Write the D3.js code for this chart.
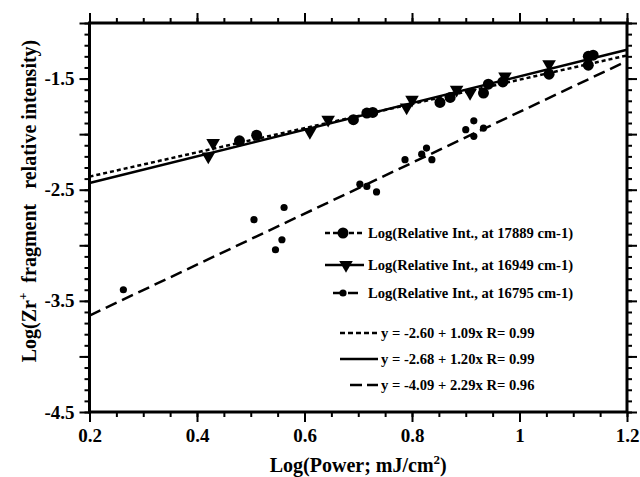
<!DOCTYPE html>
<html>
<head>
<meta charset="utf-8">
<script src="https://cdn.jsdelivr.net/npm/d3@7"></script>
<style>
  body { margin: 0; background: #fff; }
  text { font-family: "Liberation Serif", "Times New Roman", serif; font-weight: bold; fill: #000; }
</style>
</head>
<body>
<div id="chart"></div>
<script>
/* Log of Zr+ fragment intensity vs log of laser power, three lines with linear fits */

// data
const power17889 = [0.479, 0.511, 0.691, 0.716, 0.727, 0.852, 0.871, 0.933, 0.942, 0.969, 1.055, 1.128, 1.137, 1.128];
const int17889   = [-2.06, -2.01, -1.87, -1.81, -1.805, -1.715, -1.67, -1.63, -1.55, -1.53, -1.46, -1.30, -1.29, -1.38];

const power16949 = [0.421, 0.43, 0.61, 0.644, 0.79, 0.80, 0.883, 0.908, 0.973, 1.055];
const int16949   = [-2.20, -2.08, -1.98, -1.87, -1.76, -1.69, -1.60, -1.63, -1.48, -1.37];

const power16795 = [0.263, 0.506, 0.546, 0.558, 0.562, 0.703, 0.716, 0.734, 0.787, 0.818, 0.827, 0.837, 0.900, 0.915, 0.915, 0.933];
const int16795   = [-3.40, -2.77, -3.04, -2.95, -2.66, -2.45, -2.47, -2.52, -2.23, -2.18, -2.125, -2.23, -1.96, -1.88, -2.02, -1.945];

// linear fits (intercept, slope) as printed in the legend
const fitIntercepts = [-2.60, -2.68, -4.09];
const fitSlopes     = [1.09, 1.20, 2.29];

const seriesLabels = ["Log(Relative Int., at 17889 cm-1)",
                      "Log(Relative Int., at 16949 cm-1)",
                      "Log(Relative Int., at 16795 cm-1)"];
const fitLabels = ["y = -2.60 + 1.09x R= 0.99",
                   "y = -2.68 + 1.20x R= 0.99",
                   "y = -4.09 + 2.29x R= 0.96"];

const xTicks = [0.2, 0.4, 0.6, 0.8, 1.0, 1.2];
const xTickLabels = ["0.2", "0.4", "0.6", "0.8", "1", "1.2"];
const yTicks = [-1.5, -2.5, -3.5, -4.5];
const yTickLabels = ["-1.5", "-2.5", "-3.5", "-4.5"];

const width = 640, height = 477;
const margin = {top: 23, right: 13, bottom: 65, left: 89.5};

const svg = d3.select("#chart").append("svg")
    .attr("width", width)
    .attr("height", height)
    .attr("viewBox", [0, 0, width, height]);

const x = d3.scaleLinear().domain([0.2, 1.2]).range([margin.left, width - margin.right]);
const y = d3.scaleLinear().domain([-4.5, -1.0]).range([height - margin.bottom, margin.top]);

const fitDash = ["4,3", null, "12,6"];

// minor tick positions
const xMinor = d3.range(0.2, 1.2001, 0.05).map(v => +v.toFixed(2));
const yMinor = d3.range(-4.5, -0.999, 0.1).map(v => +v.toFixed(1));
const xMajor = d3.range(0.2, 1.2001, 0.2).map(v => +v.toFixed(1));
const yMajor = d3.range(-4.5, -0.999, 0.5).map(v => +v.toFixed(1));

function tickAxis(axis, scale, ticks, size, tx, ty) {
    svg.append("g")
        .attr("transform", `translate(${tx},${ty})`)
        .call(axis(scale).tickValues(ticks).tickSize(size).tickSizeOuter(0).tickFormat(""))
        .call(g => g.select(".domain").remove())
        .call(g => g.selectAll("line").attr("stroke-width", 2));
}

const x0 = margin.left, x1 = width - margin.right, y0 = height - margin.bottom, y1 = margin.top;

// minor + major ticks on all four sides, pointing out
tickAxis(d3.axisBottom, x, xMinor, 5, 0, y0);
tickAxis(d3.axisBottom, x, xMajor, 10, 0, y0);
tickAxis(d3.axisTop, x, xMinor, 5, 0, y1);
tickAxis(d3.axisTop, x, xMajor, 10, 0, y1);
tickAxis(d3.axisLeft, y, yMinor, 5, x0, 0);
tickAxis(d3.axisLeft, y, yMajor, 10, x0, 0);
tickAxis(d3.axisRight, y, yMinor, 5, x1, 0);
tickAxis(d3.axisRight, y, yMajor, 10, x1, 0);

// tick labels
svg.append("g")
    .attr("transform", `translate(0,${y0})`)
    .call(d3.axisBottom(x).tickValues(xTicks).tickSize(10).tickPadding(7)
          .tickFormat((d, i) => xTickLabels[i]))
    .call(g => g.select(".domain").remove())
    .call(g => g.selectAll("line").remove())
    .call(g => g.selectAll("text").attr("font-size", 19).attr("font-family", null));

svg.append("g")
    .attr("transform", `translate(${x0},0)`)
    .call(d3.axisLeft(y).tickValues(yTicks).tickSize(10).tickPadding(5)
          .tickFormat((d, i) => yTickLabels[i]))
    .call(g => g.select(".domain").remove())
    .call(g => g.selectAll("line").remove())
    .call(g => g.selectAll("text").attr("font-size", 19).attr("font-family", null));

// frame
svg.append("rect")
    .attr("x", x0).attr("y", y1)
    .attr("width", x1 - x0).attr("height", y0 - y1)
    .attr("fill", "none").attr("stroke", "#000").attr("stroke-width", 3);

// fit lines
const line = d3.line().x(d => x(d[0])).y(d => y(d[1]));
fitIntercepts.forEach((b, i) => {
    svg.append("path")
        .attr("d", line([[0.2, b + fitSlopes[i] * 0.2], [1.2, b + fitSlopes[i] * 1.2]]))
        .attr("fill", "none")
        .attr("stroke", "#000")
        .attr("stroke-width", 2.5)
        .attr("stroke-dasharray", fitDash[i]);
});

// markers
const tri = d3.symbol().type(d3.symbolTriangle).size(80);

svg.append("g").selectAll("circle")
    .data(d3.zip(power17889, int17889))
    .join("circle")
    .attr("cx", d => x(d[0])).attr("cy", d => y(d[1])).attr("r", 5.5);

svg.append("g").selectAll("path")
    .data(d3.zip(power16949, int16949))
    .join("path")
    .attr("d", tri)
    .attr("transform", d => `translate(${x(d[0])},${y(d[1])}) rotate(180)`);

svg.append("g").selectAll("circle")
    .data(d3.zip(power16795, int16795))
    .join("circle")
    .attr("cx", d => x(d[0])).attr("cy", d => y(d[1])).attr("r", 3.6);

// legend
const leg = svg.append("g");
const rowY = [233, 265, 293];
const sampleDash = ["5,3", null, "10,5"];
const sampleX = [[325, 365], [325, 364], [333, 361]];
rowY.forEach((ry, i) => {
    leg.append("line")
        .attr("x1", sampleX[i][0]).attr("x2", sampleX[i][1])
        .attr("y1", ry).attr("y2", ry)
        .attr("stroke", "#000").attr("stroke-width", 2.5)
        .attr("stroke-dasharray", sampleDash[i]);
    leg.append("text")
        .attr("x", 368).attr("y", ry).attr("dy", "0.35em")
        .attr("font-size", 14.6)
        .text(seriesLabels[i]);
});
leg.append("circle").attr("cx", 343).attr("cy", rowY[0]).attr("r", 5.5);
leg.append("path").attr("d", tri).attr("transform", `translate(346,${rowY[1]}) rotate(180)`);
leg.append("circle").attr("cx", 343).attr("cy", rowY[2]).attr("r", 3.6);

const fitY = [333, 359, 385];
const fitSampleX = [[340, 378], [340, 378], [350, 378]];
const fitSampleDash = ["5,3", null, "12,5"];
fitY.forEach((ry, i) => {
    leg.append("line")
        .attr("x1", fitSampleX[i][0]).attr("x2", fitSampleX[i][1])
        .attr("y1", ry).attr("y2", ry)
        .attr("stroke", "#000").attr("stroke-width", 2.5)
        .attr("stroke-dasharray", fitSampleDash[i]);
    leg.append("text")
        .attr("x", 381).attr("y", ry).attr("dy", "0.35em")
        .attr("font-size", 14.6)
        .text(fitLabels[i]);
});

// axis titles
const xt = svg.append("text")
    .attr("x", (x0 + x1) / 2).attr("y", 472)
    .attr("text-anchor", "middle")
    .attr("font-size", 20);
xt.append("tspan").text("Log(Power; mJ/cm");
xt.append("tspan").attr("dy", -8).attr("font-size", 13).text("2");
xt.append("tspan").attr("dy", 8).text(")");

const yt = svg.append("text")
    .attr("transform", "translate(36,201) rotate(-90)")
    .attr("text-anchor", "middle")
    .attr("font-size", 20)
    .style("white-space", "pre");
yt.append("tspan").text("Log(Zr");
yt.append("tspan").attr("dy", -9).attr("font-size", 13).text("+");
yt.append("tspan").attr("dy", 9).text("  fragment   relative intensity)");
</script>
</body>
</html>
